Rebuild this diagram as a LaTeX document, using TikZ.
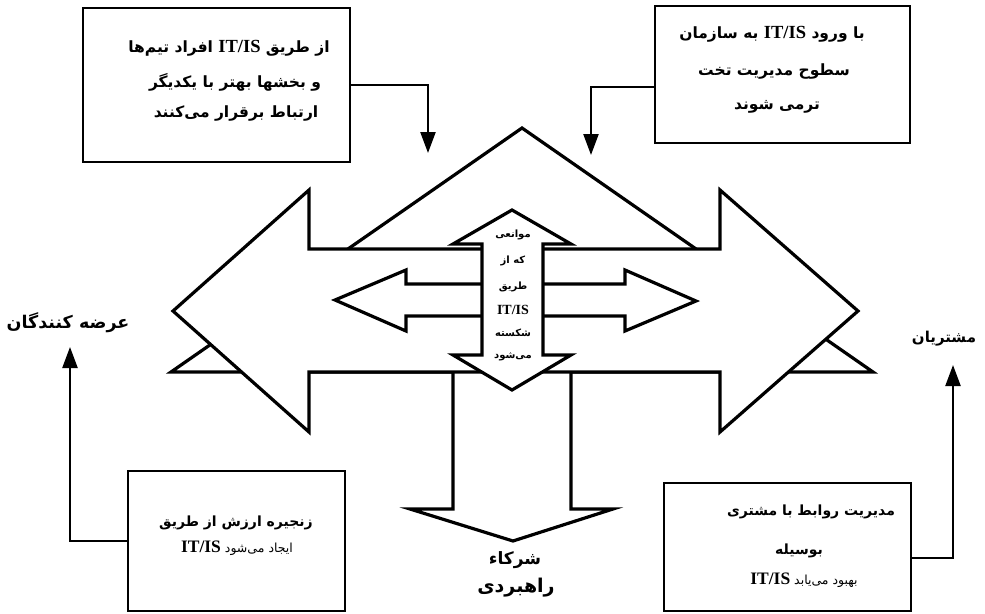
\documentclass[tikz,border=0pt]{standalone}
\usepackage{fontspec}
\usetikzlibrary{arrows.meta}
\TeXXeTstate=1
\newfontfamily\fafont[Script=Arabic]{DejaVu Sans}
\newfontfamily\latfont{Liberation Serif}
% a right-to-left line, and the Latin abbreviation set left-to-right inside it
\newcommand\faline[1]{\fafont\beginR #1\endR}
\newcommand\itisat[1]{\beginL{\latfont\bfseries\fontsize{#1}{#1}\selectfont IT/IS}\endL}
\tikzset{
  shapeline/.style={draw=black, line width=3.2pt, fill=white, line join=miter},
  box/.style={draw=black, line width=2.3pt, fill=white, inner sep=0pt},
  conn/.style={draw=black, line width=2.3pt, -{Triangle[length=21pt,width=15pt]}},
  boxtext/.style={inner sep=0pt, font=\fontsize{15.5}{17}\selectfont\bfseries},
  lowtext/.style={inner sep=0pt, font=\fontsize{14}{16}\selectfont\bfseries},
  thintext/.style={inner sep=0pt, font=\fontsize{12.5}{14}\selectfont},
  midtext/.style={inner sep=0pt, font=\fontsize{10}{12}\selectfont\bfseries},
  label/.style={inner sep=0pt, font=\fontsize{16}{18}\selectfont\bfseries}
}
\begin{document}
\begin{tikzpicture}[x=1pt, y=-1pt]
\useasboundingbox (0,0) rectangle (985,613);

% large triangle behind everything
\draw[shapeline] (522,128) -- (873,372) -- (171,372) -- cycle;

% downward arrow towards the partners
\draw[shapeline] (453,372) -- (453,509) -- (410,509) -- (513,541)
  -- (613,509) -- (571,509) -- (571,372);

% large left-right double arrow
\draw[shapeline] (173,311) -- (309,190) -- (309,249) -- (720,249) -- (720,190)
  -- (858,311) -- (720,432) -- (720,372) -- (309,372) -- (309,432) -- cycle;

% small left-right double arrow
\draw[shapeline] (335,300) -- (406,270) -- (406,284) -- (625,284) -- (625,270)
  -- (696,301) -- (625,331) -- (625,316) -- (406,316) -- (406,331) -- cycle;

% central up-down double arrow
\draw[shapeline] (512,210) -- (571,244) -- (543,244) -- (543,355) -- (571,355)
  -- (512,390) -- (453,355) -- (482,355) -- (482,244) -- (453,244) -- cycle;

% text inside the central arrow
\node[midtext] (m1) at (513,235) {\faline{موانعی}};
\node[midtext] (m2) at (513,261) {\faline{که از}};
\node[midtext] (m3) at (513,287) {\faline{طریق}};
\node[midtext] (m4) at (513,310) {\faline{\itisat{14}}};
\node[midtext] (m5) at (513,333) {\faline{شکسته}};
\node[midtext] (m6) at (513,357) {\faline{می‌شود}};

% boxes
\node[box, minimum width=267pt, minimum height=154pt] (tl) at (216.5,85) {};
\node[box, minimum width=255pt, minimum height=137pt] (tr) at (782.5,74.5) {};
\node[box, minimum width=217pt, minimum height=140pt] (bl) at (236.5,541) {};
\node[box, minimum width=247pt, minimum height=128pt] (br) at (787.5,547) {};

% box texts
\node[boxtext] (tl1) at (229,48) {\faline{از طریق \itisat{18.5}{} افراد تیم‌ها}};
\node[boxtext] (tl2) at (235,82) {\faline{و بخشها بهتر با یکدیگر}};
\node[boxtext] (tl3) at (236,114) {\faline{ارتباط برقرار می‌کنند}};

\node[boxtext] (tr1) at (772,34) {\faline{با ورود \itisat{18.5}{} به سازمان}};
\node[boxtext] (tr2) at (774,72) {\faline{سطوح مدیریت تخت}};
\node[boxtext] (tr3) at (777,107) {\faline{ترمی شوند}};

\node[lowtext] (bl1) at (236,523) {\faline{زنجیره ارزش از طریق}};
\node[thintext] (bl2) at (237,548) {\faline{ایجاد می‌شود \itisat{17.5}}};

\node[lowtext] (br1) at (811,512) {\faline{مدیریت روابط با مشتری}};
\node[lowtext] (br2) at (799,551) {\faline{بوسیله}};
\node[thintext] (br3) at (804,580) {\faline{بهبود می‌یابد \itisat{17.5}}};

% outside labels
\node[label, font=\fontsize{17.5}{19}\selectfont\bfseries] (supp) at (68,323) {\faline{عرضه کنندگان}};
\node[label, font=\fontsize{15}{17}\selectfont\bfseries] (cust) at (944,339) {\faline{مشتریان}};
\node[label, font=\fontsize{17}{19}\selectfont\bfseries] (part1) at (515,560) {\faline{شرکاء}};
\node[label, font=\fontsize{19}{21}\selectfont\bfseries] (part2) at (516,588) {\faline{راهبردی}};

% connectors
\coordinate (tlend) at (428,153);
\coordinate (trend) at (591,155);
\coordinate (trlvl) at (0,87);
\coordinate (blend) at (70,347);
\coordinate (brend) at (953,365);
\coordinate (brlvl) at (0,558);
\draw[conn] (tl.east) -| (tlend);
\draw[conn] (tr.west |- trlvl) -| (trend);
\draw[conn] (bl.west) -| (blend);
\draw[conn] (br.east |- brlvl) -| (brend);
\end{tikzpicture}
\end{document}
